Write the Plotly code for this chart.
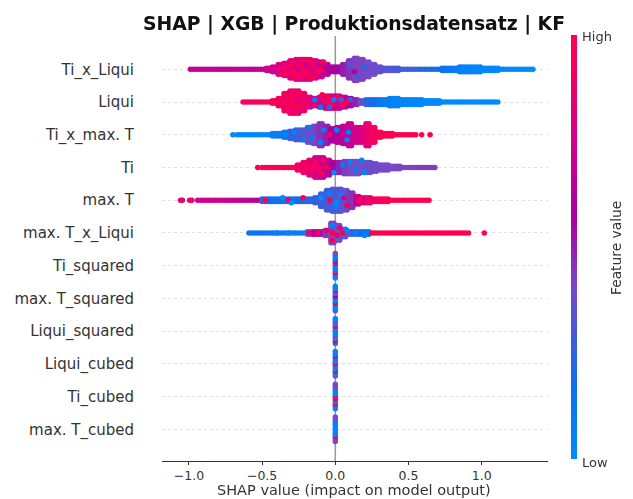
import plotly.graph_objects as go

FEATURES = ["Ti_x_Liqui", "Liqui", "Ti_x_max. T", "Ti", "max. T", "max. T_x_Liqui",
            "Ti_squared", "max. T_squared", "Liqui_squared", "Liqui_cubed", "Ti_cubed", "max. T_cubed"]
TITLE = "SHAP | XGB | Produktionsdatensatz | KF"
XLABEL = "SHAP value (impact on model output)"
XTICKS = [-1.0, -0.5, 0.0, 0.5, 1.0]
BIN = 0.04
DOT_STEP = 0.075

# first bin centre, dots per bin, feature value per bin (rows with a wide swarm)
start_1 = -0.98
count_1 = [1]*13 + [2,3,5,6,8,9,9,9,8,7,5,3,3,5,8,10,9,7,5,3,2,2,2,1,1,1,1,1,1,1,2,2,2,3,3,3,3,2,2,2,1,1,1,1,1,1]
color_1 = [.68]*13 + [.72,.76,.8,.82,.84,.84,.84,.82,.8,.74,.64,.6,.56,.5,.46,.42,.42,.4,.38,.36,.34,.32,.3,.28,.26,.25,.24,.22,.2,.18,.16,.12,.1,.08,.06,.04,.03,.02,.02,.01,.01,0,0,0,0,0]

start_2 = -0.62
count_2 = [1]*5 + [2,4,8,10,10,8,5,4,5,6,6,6,5,4,3,2,3,3,3,3,4,4,3,3,3,3,2,2,2] + [1]*10
color_2 = [.97]*5 + [.97,.95,.92,.9,.9,.88,.84,.8,.78,.76,.76,.72,.68,.6,.5,.36,.24,.18,.12,.08,.06,.05,.04,.03,.03,.02,.02,.01,.01] + [0]*10

start_3 = -0.66
count_3 = [1]*5 + [1,2,2,3,4,5,5,7,8,10,8,6,7,8,10,7,7,10,7,3,2,2,1,1,1,1]
color_3 = [.01]*5 + [.03,.06,.1,.14,.25,.28,.32,.36,.42,.46,.5,.56,.62,.66,.7,.74,.78,.86,.94,.98,1,1,1,1,1,1]

start_4 = -0.49
count_4 = [1]*5 + [1,3,5,7,9,9,7,5,5,6,6,6,5,5,4,3,3,2,2,1,1,1,1,1,1]
color_4 = [1]*5 + [.98,.95,.9,.84,.78,.72,.66,.58,.5,.44,.4,.38,.38,.38,.38,.4,.4,.4,.42,.42,.42,.43,.44,.44,.44]

start_5 = -0.93
count_5 = [1]*11 + [2]*9 + [3,6,9,10,10,9,7,4,3,3,2,2,2,1,1,1,1,1,1,1]
color_5 = [.72,.72,.72,.7,.7,.7,.68,.68,.66,.66,.62, .2,.18,.16,.15,.15,.16,.18,.2,.22,
           .26,.26,.28,.3,.32,.36,.46,.68,.84,.9,.94,.97,.99,1,1,1,1,1,1,1]

start_6 = -0.58
count_6 = [1]*10 + [2,2,2,3,9,7,4,2,2,2,2] + [1]*17
color_6 = [.14,.14,.13,.12,.12,.11,.1,.1,.1,.1, .4,.62,.55,.45,.42,.4,.36,.3,.22,.16,.14] + [1]*17

# isolated dots: (shap value, feature value)
outliers_3 = [(-0.70, 0.0), (0.59, 1.0), (0.647, 1.0)]
outliers_4 = [(-0.53, 1.0)]
outliers_5 = [(-1.057, 0.85), (-1.045, 0.85), (-0.995, 0.85), (-0.98, 0.85)]
outliers_6 = [(1.018, 1.0)]

# speckles: (shap value, offset in dot steps, feature value)
speck_1 = [(-0.3,2,1),(-0.22,-2,1),(-0.18,3,1),(-0.12,-1,1),(-0.26,-3,.95),(-0.08,3,1),(0.1,2,.3),(0.15,-3,.3),(0.2,1,.25),(0.13,-1,.55),
           (-0.34,0,1),(-0.24,1,1),(-0.2,-1,1),(-0.28,-1,1),(-0.14,2,1),(-0.16,-3,1),(-0.1,0,1),(-0.22,4,1),(-0.36,-2,.95),(-0.3,-2,1),(-0.2,2,.7),(-0.26,0,.7),(-0.12,2,.7)]
speck_2 = [(-0.14,1,.1),(-0.1,-2,.15),(-0.05,2,1),(-0.02,-1,1),(0.02,2,.95),(0.05,-1,1),(-0.09,3,1),(0.1,1,.15),(-0.01,1,.05),
           (-0.3,2,1),(-0.26,-2,1),(-0.28,0,1),(-0.24,3,1),(-0.32,-1,1),(-0.26,1,.75),(-0.22,-1,1),(-0.06,0,1),(0.08,0,1),(0.04,1,.3),(-0.04,-2,.2)]
speck_3 = [(-0.34,0,.05),(-0.28,1,.05),(-0.22,-2,.1),(-0.18,3,.1),(-0.16,-1,.1),(-0.08,2,.1),(-0.1,-3,.05),(0.01,2,.05),(0.09,1,.05),(0.08,-2,.1),(-0.04,0,1)]
speck_4 = [(0.1,2,.05),(0.18,3,.05),(0.2,-2,.05),(-0.01,-2,.05),(0.05,1,.1),(0.14,-1,.1),(-0.14,2,1),(-0.1,-2,1),(-0.06,0,1),(-0.2,1,1),(-0.16,-1,1),(-0.12,0,1),(-0.08,3,1)]
speck_5 = [(-0.48,0,1),(-0.32,0,.9),(-0.22,1,1),(-0.36,1,0),(-0.3,-1,0),(-0.1,1,0),(-0.04,3,.05),(0.01,-1,0),(-0.04,0,1),(0.04,2,.05),(0.0,-3,.05),(0.08,-2,.9),(0.16,0,1),(0.06,1,.75)]
speck_6 = [(-0.18,0,.9),(-0.12,0,1),(-0.06,1,.9),(-0.02,3,.05),(0.0,-2,.05),(-0.02,0,1),(0.05,0,1),(0.03,2,.9),(-0.02,-3,1),(0.14,0,.05),(0.2,-1,.05),(0.08,1,.05),(-0.32,0,.05),(-0.4,0,.05),(0.01,-1,.9)]

# rows whose values all sit at zero: feature value of each stacked dot
zero_7 = [.05,.05,.9,.4,.05,.05,.95,.5,.05,.05,.4]
zero_8 = [.4,.05,.05,.9,.05,.05,.6,.05,.95,.05,.05]
zero_9 = [.05,.95,.05,.4,.05,.05,.05,.9,.05,.4,.05]
zero_10 = [.4,.05,.9,.05,.05,.9,.05,.05,.5,.05,.05]
zero_11 = [.05,.05,.95,.05,.9,.95,.05,.05,.05,.4,.4]
zero_12 = [.4,.4,.95,.05,.05,.05,.05,.05,.05,.4,.4]

CSCALE = [[0, "#008bfb"], [.17, "#0e6ff0"], [.41, "#7a48c4"], [.57, "#a800a0"], [.75, "#d4008c"], [1, "#ff0051"]]
MARKER = 5.5

wide = [(start_1, count_1, color_1, [], speck_1), (start_2, count_2, color_2, [], speck_2),
        (start_3, count_3, color_3, outliers_3, speck_3), (start_4, count_4, color_4, outliers_4, speck_4),
        (start_5, count_5, color_5, outliers_5, speck_5), (start_6, count_6, color_6, outliers_6, speck_6)]
zeros = [zero_7, zero_8, zero_9, zero_10, zero_11, zero_12]
n = len(FEATURES)

fig = go.Figure()


def add(xs, ys, cs):
    marker = dict(size=MARKER, color=cs, coloraxis="coloraxis", line=dict(width=0), opacity=1)
    fig.add_trace(go.Scatter(x=xs, y=ys, mode="markers", marker=marker, showlegend=False, hoverinfo="skip"))


for r, (start, counts, colors, outs, specks) in enumerate(wide):
    row_y = n - r
    xs, ys, cs = [], [], []
    for j, (cnt, col) in enumerate(zip(counts, colors)):
        cx = start + j * BIN
        for shift in (-BIN / 4, BIN / 4):
            for i in range(cnt):
                xs.append(cx + shift)
                ys.append(row_y + (i - (cnt - 1) / 2) * DOT_STEP)
                cs.append(col)
    for ox, oc in outs:
        xs.append(ox); ys.append(row_y); cs.append(oc)
    for sx, so, sc in specks:
        xs.append(sx); ys.append(row_y + so * DOT_STEP); cs.append(sc)
    add(xs, ys, cs)

for r, vals in enumerate(zeros):
    row_y = n - 6 - r
    m = len(vals)
    add([0.0] * m, [row_y + (i - (m - 1) / 2) * DOT_STEP for i in range(m)], vals)

PLOT_H = 499 - 36 - 38
PLOT_W = 633 - 162 - 85
fig.update_layout(
    width=633, height=499,
    margin=dict(l=162, r=85, t=36, b=38),
    paper_bgcolor="white", plot_bgcolor="white",
    font=dict(family="DejaVu Sans", color="#333333"),
    title=dict(text="<b>" + TITLE + "</b>", x=354 / 633, xanchor="center", y=1 - 23 / 499, yanchor="middle",
               font=dict(size=18.8, color="#111111", family="DejaVu Sans")),
    xaxis=dict(range=[-1.184, 1.453], tickvals=XTICKS, ticktext=["\u22121.0", "\u22120.5", "0.0", "0.5", "1.0"],
               ticks="outside", ticklen=3, tickcolor="#333333", showline=True, linecolor="#333333", linewidth=1,
               showgrid=False, zeroline=False, tickfont=dict(size=12.5, color="#333333"), automargin=False),
    yaxis=dict(range=[0.03, 13.02], tickvals=list(range(n, 0, -1)), ticktext=FEATURES,
               ticks="", showline=False, zeroline=False, showgrid=True, gridcolor="#e0e0e0", griddash="dot", gridwidth=1,
               tickfont=dict(size=15, color="#333333"), ticklabelstandoff=27, automargin=False),
    coloraxis=dict(cmin=0, cmax=1, colorscale=CSCALE,
                   colorbar=dict(thickness=6, len=424, lenmode="pixels", x=571 / 633, xanchor="left", xref="container",
                                 y=1 - 290.5 / 499, yanchor="middle", yref="container", outlinewidth=0, ticks="",
                                 showticklabels=False, ypad=0, xpad=0)),
    shapes=[dict(type="line", xref="x", yref="paper", x0=0, x1=0, y0=0, y1=1, layer="below",
                 line=dict(color="#999999", width=1.5))],
    annotations=[
        dict(text="Feature value", xref="paper", yref="paper", x=(616 - 162) / PLOT_W, y=1 - (248 - 36) / PLOT_H,
             showarrow=False, textangle=-90, xanchor="center", yanchor="middle",
             font=dict(size=13.8, color="#333333")),
        dict(text=XLABEL, xref="paper", yref="paper", x=(354 - 162) / PLOT_W, y=1 - (490 - 36) / PLOT_H,
             showarrow=False, xanchor="center", yanchor="middle", borderpad=0, font=dict(size=14.5, color="#333333")),
        dict(text="High", xref="paper", yref="paper", x=(580 - 162) / PLOT_W, y=1 - (37 - 36) / PLOT_H,
             showarrow=False, xanchor="left", yanchor="middle", font=dict(size=13, color="#333333")),
        dict(text="Low", xref="paper", yref="paper", x=(580 - 162) / PLOT_W, y=1 - (462 - 36) / PLOT_H,
             showarrow=False, xanchor="left", yanchor="middle", font=dict(size=13, color="#333333")),
    ],
)
fig.write_html("out.html", config={"displayModeBar": False},
               post_script="document.body.style.margin='0';document.documentElement.style.overflow='hidden';"
                           "document.querySelectorAll('.scatterlayer').forEach(e=>e.style.filter='blur(0.6px)');")
